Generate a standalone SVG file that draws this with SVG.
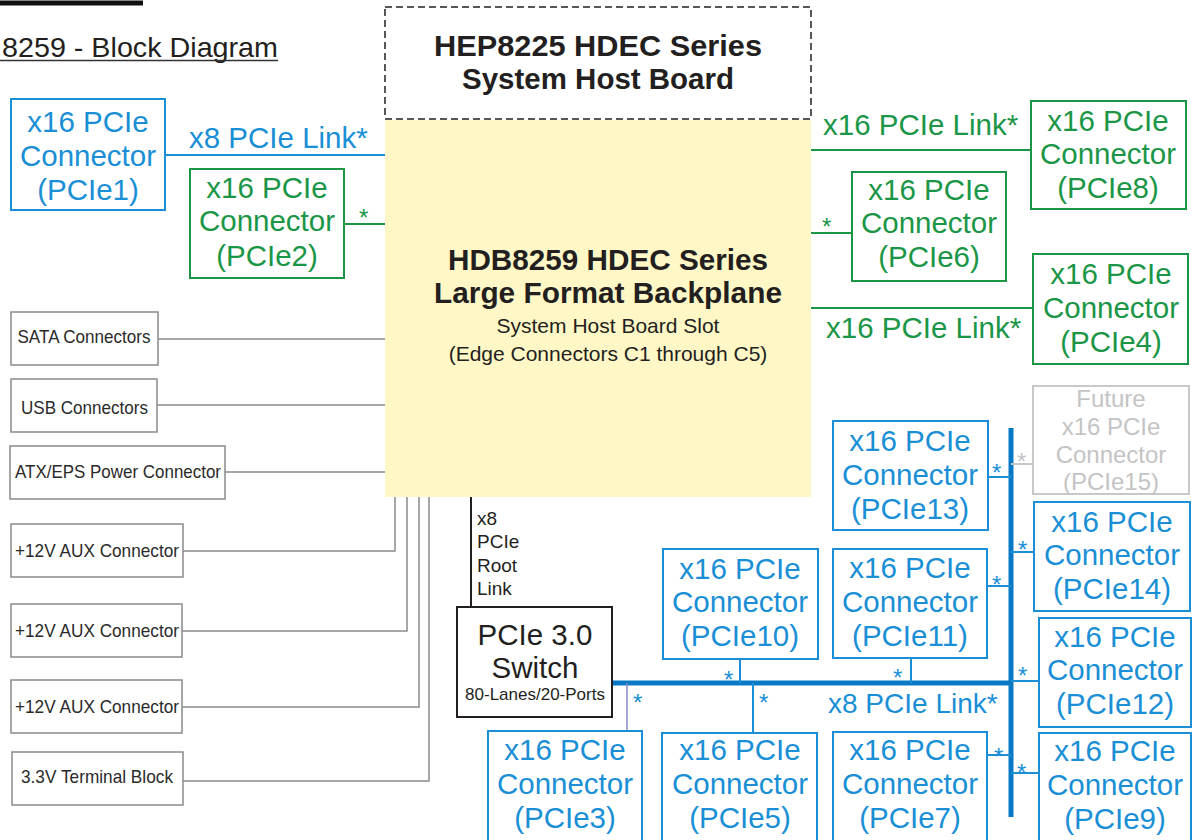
<svg xmlns="http://www.w3.org/2000/svg" width="1196" height="840" viewBox="0 0 1196 840">
<style>
text{font-family:"Liberation Sans",Arial,sans-serif}
.bl{fill:none;stroke:#1a8fd6;stroke-width:2}
.gr{fill:none;stroke:#1b9647;stroke-width:2}
.gy{fill:#fff;stroke:#8a8a8a;stroke-width:1.5}
.bt{fill:#1a8fd6;font-size:29.5px;text-anchor:middle}
.gt{fill:#1b9647;font-size:29.5px;text-anchor:middle}
.ft{fill:#c4c4c4;font-size:24px;text-anchor:middle}
.kt{fill:#2a2a2a;font-size:19px;text-anchor:middle}
.bw{stroke:#1a8fd6;stroke-width:2;fill:none}
.gw{stroke:#1b9647;stroke-width:2;fill:none}
.yw{stroke:#8a8a8a;stroke-width:1.5;fill:none}
.bus{stroke:#0a78c4;stroke-width:5;fill:none}
.sb{fill:#1a8fd6;font-size:24px}
.sg{fill:#1b9647;font-size:24px}
</style>
<rect width="1196" height="840" fill="#fff"/>
<!-- header fragments -->
<line x1="0" y1="3" x2="143" y2="3" stroke="#111" stroke-width="5"/>
<text x="278" y="57" font-size="28" fill="#231f20" text-anchor="end" textLength="276" lengthAdjust="spacingAndGlyphs">8259 - Block Diagram</text>
<line x1="0" y1="60.5" x2="278" y2="60.5" stroke="#333" stroke-width="1.5"/>

<g id="connectors">
  <line class="bw" x1="165" y1="155" x2="385" y2="155"/>
  <line class="gw" x1="344" y1="224" x2="385" y2="224"/>
  <line class="gw" x1="811" y1="150" x2="1031" y2="150"/>
  <line class="gw" x1="811" y1="233" x2="852" y2="233"/>
  <line class="gw" x1="811" y1="308" x2="1033" y2="308"/>
  <line class="yw" x1="158" y1="339" x2="385" y2="339"/>
  <line class="yw" x1="157" y1="405" x2="385" y2="405"/>
  <line class="yw" x1="225" y1="472" x2="385" y2="472"/>
  <polyline class="yw" points="183,551 395,551 395,497"/>
  <polyline class="yw" points="182,631 407,631 407,497"/>
  <polyline class="yw" points="182,707 419,707 419,497"/>
  <polyline class="yw" points="183,781 429,781 429,497"/>
  <line x1="471" y1="497" x2="471" y2="607" stroke="#231f20" stroke-width="2"/>
  <line class="bus" x1="612" y1="683" x2="1013" y2="683"/>
  <line class="bus" x1="1011" y1="428" x2="1011" y2="817"/>
  <line x1="627" y1="683" x2="627" y2="731" stroke="#8a8acb" stroke-width="1.5"/>
  <line class="bw" x1="753" y1="683" x2="753" y2="733"/>
  <line class="bw" x1="740" y1="659" x2="740" y2="683"/>
  <line class="bw" x1="911" y1="658" x2="911" y2="683"/>
  <line class="bw" x1="987" y1="755" x2="1011" y2="755"/>
  <line class="bw" x1="988" y1="477" x2="1011" y2="477"/>
  <line x1="1011" y1="464" x2="1033" y2="464" stroke="#c8c8c8" stroke-width="2"/>
  <line class="bw" x1="1011" y1="552" x2="1034" y2="552"/>
  <line class="bw" x1="987" y1="586" x2="1011" y2="586"/>
  <line class="bw" x1="1011" y1="681" x2="1039" y2="681"/>
  <line class="bw" x1="1011" y1="773" x2="1039" y2="773"/>
  <!-- labels -->
  <text class="sb" x="189" y="148" style="font-size:29.5px">x8 PCIe Link*</text>
  <text class="sg" x="359" y="226">*</text>
  <text class="sg" x="823" y="135" style="font-size:29.5px">x16 PCIe Link*</text>
  <text class="sg" x="822" y="235">*</text>
  <text class="sg" x="826" y="338" style="font-size:29.5px">x16 PCIe Link*</text>
  <text class="sb" x="828" y="713" style="font-size:28px">x8 PCIe Link*</text>
  <text class="sb" x="633" y="711">*</text>
  <text class="sb" x="759" y="711">*</text>
  <text class="sb" x="724" y="688">*</text>
  <text class="sb" x="893" y="686">*</text>
  <text class="sb" x="994" y="765">*</text>
  <text class="sb" x="992" y="481">*</text>
  <text x="1017" y="470" style="font-size:24px;fill:#c4c4c4">*</text>
  <text class="sb" x="1018" y="558">*</text>
  <text class="sb" x="992" y="593">*</text>
  <text class="sb" x="1018" y="684">*</text>
  <text class="sb" x="1017" y="781">*</text>
  <text x="477" y="525" fill="#231f20" font-size="19">x8</text>
  <text x="477" y="548" fill="#231f20" font-size="19">PCIe</text>
  <text x="477" y="572" fill="#231f20" font-size="19">Root</text>
  <text x="477" y="595" fill="#231f20" font-size="19">Link</text>
</g>

<g id="host-board">
  <rect x="385" y="7" width="426" height="112" fill="#fff" stroke="#231f20" stroke-width="1.5" stroke-dasharray="7,4"/>
  <text x="598" y="56" font-size="30" font-weight="bold" fill="#231f20" text-anchor="middle" textLength="328" lengthAdjust="spacingAndGlyphs">HEP8225 HDEC Series</text>
  <text x="598" y="89" font-size="30" font-weight="bold" fill="#231f20" text-anchor="middle" textLength="272" lengthAdjust="spacingAndGlyphs">System Host Board</text>
</g>

<g id="backplane">
  <rect x="385" y="120" width="426" height="377" fill="#fff8c6"/>
  <text x="608" y="270" font-size="29.5" font-weight="bold" fill="#231f20" text-anchor="middle" textLength="320" lengthAdjust="spacingAndGlyphs">HDB8259 HDEC Series</text>
  <text x="608" y="303" font-size="29.5" font-weight="bold" fill="#231f20" text-anchor="middle" textLength="348" lengthAdjust="spacingAndGlyphs">Large Format Backplane</text>
  <text x="608" y="333" font-size="21" fill="#231f20" text-anchor="middle">System Host Board Slot</text>
  <text x="608" y="361" font-size="21" fill="#231f20" text-anchor="middle">(Edge Connectors C1 through C5)</text>
</g>

<g id="pcie1"><rect class="bl" x="11" y="99" width="154" height="111"/>
  <text class="bt" x="88" y="132">x16 PCIe</text><text class="bt" x="88" y="166">Connector</text><text class="bt" x="88" y="200">(PCIe1)</text></g>
<g id="pcie2"><rect class="gr" x="190" y="169" width="154" height="109"/>
  <text class="gt" x="267" y="198">x16 PCIe</text><text class="gt" x="267" y="231">Connector</text><text class="gt" x="267" y="266">(PCIe2)</text></g>
<g id="pcie8"><rect class="gr" x="1031" y="101" width="155" height="108"/>
  <text class="gt" x="1108" y="131">x16 PCIe</text><text class="gt" x="1108" y="164">Connector</text><text class="gt" x="1108" y="198">(PCIe8)</text></g>
<g id="pcie6"><rect class="gr" x="852" y="172" width="154" height="109"/>
  <text class="gt" x="929" y="200">x16 PCIe</text><text class="gt" x="929" y="233">Connector</text><text class="gt" x="929" y="267">(PCIe6)</text></g>
<g id="pcie4"><rect class="gr" x="1033" y="254" width="155" height="110"/>
  <text class="gt" x="1111" y="284">x16 PCIe</text><text class="gt" x="1111" y="318">Connector</text><text class="gt" x="1111" y="352">(PCIe4)</text></g>

<g id="sata"><rect class="gy" x="11" y="312" width="147" height="53"/>
  <text class="kt" x="84" y="343" textLength="133" lengthAdjust="spacingAndGlyphs">SATA Connectors</text></g>
<g id="usb"><rect class="gy" x="11" y="379" width="146" height="53"/>
  <text class="kt" x="84.5" y="414" textLength="127" lengthAdjust="spacingAndGlyphs">USB Connectors</text></g>
<g id="atx"><rect class="gy" x="10" y="446" width="215" height="53"/>
  <text class="kt" x="118" y="478" textLength="206" lengthAdjust="spacingAndGlyphs">ATX/EPS Power Connector</text></g>
<g id="aux1"><rect class="gy" x="11" y="524" width="172" height="53"/>
  <text class="kt" x="97" y="557" textLength="164" lengthAdjust="spacingAndGlyphs">+12V AUX Connector</text></g>
<g id="aux2"><rect class="gy" x="11" y="604" width="171" height="53"/>
  <text class="kt" x="97" y="637" textLength="164" lengthAdjust="spacingAndGlyphs">+12V AUX Connector</text></g>
<g id="aux3"><rect class="gy" x="11" y="680" width="171" height="53"/>
  <text class="kt" x="97" y="713" textLength="164" lengthAdjust="spacingAndGlyphs">+12V AUX Connector</text></g>
<g id="term"><rect class="gy" x="12" y="752" width="171" height="53"/>
  <text class="kt" x="97" y="783" textLength="152" lengthAdjust="spacingAndGlyphs">3.3V Terminal Block</text></g>

<g id="switch"><rect x="457" y="607" width="155" height="110" fill="#fff" stroke="#231f20" stroke-width="2"/>
  <text x="535" y="645" font-size="29.5" fill="#231f20" text-anchor="middle">PCIe 3.0</text>
  <text x="535" y="678" font-size="29.5" fill="#231f20" text-anchor="middle">Switch</text>
  <text x="535" y="700" font-size="17" fill="#231f20" text-anchor="middle">80-Lanes/20-Ports</text></g>

<g id="pcie10"><rect class="bl" x="663" y="549" width="155" height="110"/>
  <text class="bt" x="740" y="579">x16 PCIe</text><text class="bt" x="740" y="612">Connector</text><text class="bt" x="740" y="646">(PCIe10)</text></g>
<g id="pcie11"><rect class="bl" x="833" y="549" width="154" height="109"/>
  <text class="bt" x="910" y="578">x16 PCIe</text><text class="bt" x="910" y="612">Connector</text><text class="bt" x="910" y="646">(PCIe11)</text></g>
<g id="pcie13"><rect class="bl" x="833" y="421" width="155" height="109"/>
  <text class="bt" x="910" y="451">x16 PCIe</text><text class="bt" x="910" y="485">Connector</text><text class="bt" x="910" y="519">(PCIe13)</text></g>
<g id="pcie15"><rect x="1033" y="386" width="156" height="108" fill="none" stroke="#c8c8c8" stroke-width="2"/>
  <text class="ft" x="1111" y="407">Future</text><text class="ft" x="1111" y="435">x16 PCIe</text><text class="ft" x="1111" y="463">Connector</text><text class="ft" x="1111" y="490">(PCIe15)</text></g>
<g id="pcie14"><rect class="bl" x="1034" y="502" width="156" height="109"/>
  <text class="bt" x="1112" y="532">x16 PCIe</text><text class="bt" x="1112" y="565">Connector</text><text class="bt" x="1112" y="599">(PCIe14)</text></g>
<g id="pcie12"><rect class="bl" x="1039" y="618" width="152" height="109"/>
  <text class="bt" x="1115" y="647">x16 PCIe</text><text class="bt" x="1115" y="680">Connector</text><text class="bt" x="1115" y="714">(PCIe12)</text></g>
<g id="pcie9"><rect class="bl" x="1039" y="733" width="152" height="115"/>
  <text class="bt" x="1115" y="761">x16 PCIe</text><text class="bt" x="1115" y="795">Connector</text><text class="bt" x="1115" y="829">(PCIe9)</text></g>
<g id="pcie3"><rect class="bl" x="488" y="731" width="154" height="117"/>
  <text class="bt" x="565" y="760">x16 PCIe</text><text class="bt" x="565" y="794">Connector</text><text class="bt" x="565" y="828">(PCIe3)</text></g>
<g id="pcie5"><rect class="bl" x="662" y="733" width="155" height="115"/>
  <text class="bt" x="740" y="760">x16 PCIe</text><text class="bt" x="740" y="794">Connector</text><text class="bt" x="740" y="828">(PCIe5)</text></g>
<g id="pcie7"><rect class="bl" x="833" y="732" width="154" height="116"/>
  <text class="bt" x="910" y="760">x16 PCIe</text><text class="bt" x="910" y="794">Connector</text><text class="bt" x="910" y="828">(PCIe7)</text></g>
</svg>
